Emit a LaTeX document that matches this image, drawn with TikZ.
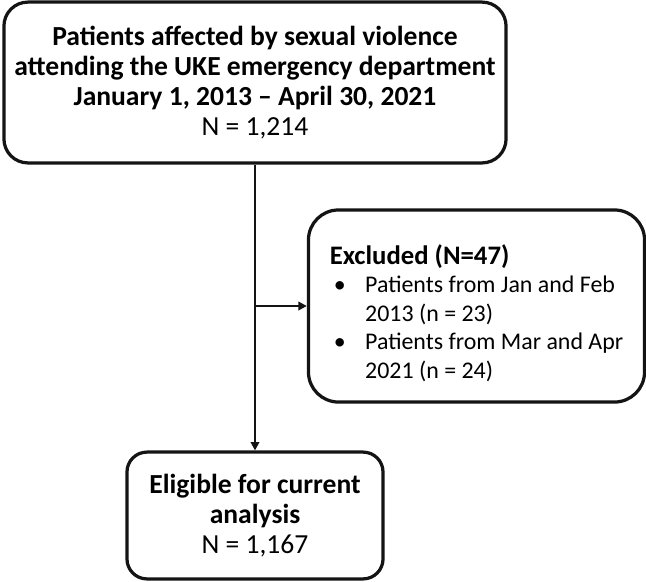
\documentclass[tikz,border=0pt]{standalone}
\usepackage{fontspec}
\setmainfont{Carlito}
\usetikzlibrary{arrows.meta,positioning}
\definecolor{boxline}{RGB}{20,20,20}

\begin{document}
\begin{tikzpicture}[x=0.025cm, y=-0.025cm,
  flowbox/.style={draw=boxline, line width=2.3pt, rounded corners=0.6cm, align=center, inner sep=0pt,
    font=\fontsize{19.6}{21.4}\selectfont},
  flowline/.style={draw=boxline, line width=2pt}]
\useasboundingbox (0,0) rectangle (646,581);
% Boxes
\node[flowbox, minimum width=12.55cm, minimum height=4.02cm] (total) at (255,82.5)
  {\textbf{Patients affected by sexual violence}\\
   \textbf{attending the UKE emergency department}\\
   \textbf{January 1, 2013 -- April 30, 2021}\\
   N = 1,214};
\node[flowbox, rounded corners=0.75cm, minimum width=8.4cm, minimum height=4.8cm, align=left,
  font=\fontsize{17}{20.3}\selectfont] (excluded) at (476.5,306)
  {\rule{0pt}{24pt}{\fontsize{19}{20.3}\selectfont\textbf{Excluded (N=47)}}\\
   \hspace*{3pt}\makebox[0.78cm][l]{\textbullet}Patients from Jan and Feb\\
   \hspace*{3pt}\hspace*{0.78cm}2013 (n = 23)\\
   \hspace*{3pt}\makebox[0.78cm][l]{\textbullet}Patients from Mar and Apr\\
   \hspace*{3pt}\hspace*{0.78cm}2021 (n = 24)};
\node[flowbox, rounded corners=0.5cm, minimum width=6.4cm, minimum height=3.17cm] (eligible) at (255,515.5)
  {\textbf{Eligible for current}\\
   \textbf{analysis}\\
   N = 1,167};
% Connectors
\coordinate (branch) at (total.south |- excluded.west);
\draw[flowline, -{Triangle[length=6pt, width=6pt]}] (total.south) -- (eligible.north);
\draw[flowline, -{Triangle[length=6pt, width=6pt]}] (branch) -- (excluded.west);
\end{tikzpicture}
\end{document}
